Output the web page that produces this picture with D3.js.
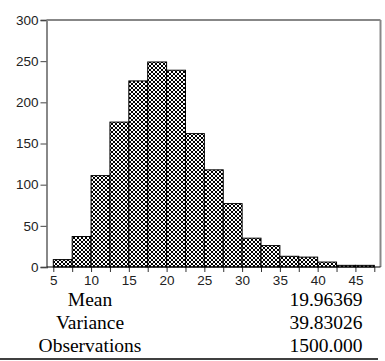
<!DOCTYPE html>
<html>
<head>
<meta charset="utf-8">
<script src="https://cdn.jsdelivr.net/npm/d3@7"></script>
<style>
  body { margin: 0; background: #fff; }
  svg { display: block; }
</style>
</head>
<body>
<svg id="chart" width="385" height="361"></svg>
<script>
// histogram bins (lower edge, width 2.5) and counts
var binStarts = [5, 7.5, 10, 12.5, 15, 17.5, 20, 22.5, 25, 27.5, 30, 32.5, 35, 37.5, 40, 42.5, 45];
var counts = [9, 37, 111, 176, 226, 249, 239, 162, 118, 77, 35, 26, 13, 12, 6, 2, 2];
var binWidth = 2.5;
var xTickLabels = [5, 10, 15, 20, 25, 30, 35, 40, 45];
var yTickLabels = [0, 50, 100, 150, 200, 250, 300];
var statNames = ["Mean", "Variance", "Observations"];
var statValues = ["19.96369", "39.83026", "1500.000"];

var svg = d3.select("#chart");

// plot frame ("top" is taken by window.top, so use a margin object)
var frame = {left: 46.5, right: 380.5, top: 20, bottom: 267};

var x = d3.scaleLinear().domain([5, 47.5]).range([53.3, 374.3]);
var y = d3.scaleLinear().domain([0, 300]).range([frame.bottom, frame.top]);

// cross-hatch fill
var defs = svg.append("defs");
var pat = defs.append("pattern")
  .attr("id", "hatch")
  .attr("patternUnits", "userSpaceOnUse")
  .attr("width", 4).attr("height", 4);
pat.append("rect").attr("width", 4).attr("height", 4).attr("fill", "#fff");
pat.append("path")
  .attr("d", "M0,0L4,4M0,4L4,0")
  .attr("stroke", "#000")
  .attr("stroke-width", 1.0);

// bars
svg.append("g")
  .selectAll("rect")
  .data(counts)
  .enter().append("rect")
  .attr("x", function(d, i) { return x(binStarts[i]); })
  .attr("y", function(d) { return y(d); })
  .attr("width", function(d, i) { return x(binStarts[i] + binWidth) - x(binStarts[i]); })
  .attr("height", function(d) { return y(0) - y(d); })
  .attr("fill", "url(#hatch)")
  .attr("stroke", "#000")
  .attr("stroke-width", 1);

// frame: top and right
svg.append("line")
  .attr("x1", frame.left).attr("x2", frame.right)
  .attr("y1", frame.top).attr("y2", frame.top)
  .attr("stroke", "#111").attr("stroke-width", 1.2);
svg.append("line")
  .attr("x1", frame.right).attr("x2", frame.right)
  .attr("y1", frame.top).attr("y2", frame.bottom)
  .attr("stroke", "#888").attr("stroke-width", 2);

// y axis
var yAxis = d3.axisLeft(y)
  .tickValues(yTickLabels)
  .tickSize(6)
  .tickPadding(2);
var gy = svg.append("g")
  .attr("transform", "translate(" + frame.left + ",0)")
  .call(yAxis);
gy.select(".domain").attr("stroke", "#888").attr("stroke-width", 2);
gy.selectAll(".tick line").attr("stroke", "#444");
gy.selectAll("text")
  .attr("font-family", "Liberation Sans, Arial, sans-serif")
  .attr("font-size", 13.5)
  .attr("fill", "#222");

// x axis: ticks at every bin edge, labels at multiples of 5
var xAxis = d3.axisBottom(x)
  .tickValues(binStarts.concat([47.5]))
  .tickSize(5)
  .tickPadding(3)
  .tickFormat(function(d) { return xTickLabels.indexOf(d) >= 0 ? d : ""; });
var gx = svg.append("g")
  .attr("transform", "translate(0," + frame.bottom + ")")
  .call(xAxis);
gx.select(".domain").remove();
gx.selectAll(".tick line").attr("stroke", "#333");
gx.selectAll("text")
  .attr("font-family", "Liberation Sans, Arial, sans-serif")
  .attr("font-size", 13.5)
  .attr("fill", "#222");

svg.append("line")
  .attr("x1", frame.left).attr("x2", frame.right)
  .attr("y1", frame.bottom).attr("y2", frame.bottom)
  .attr("stroke", "#000").attr("stroke-width", 1.2);

// summary statistics
var rowY = d3.scalePoint().domain(statNames).range([306, 351.5]);
var stats = svg.append("g")
  .attr("font-family", "Liberation Serif, Times New Roman, serif")
  .attr("font-size", 19.5)
  .attr("fill", "#000");
stats.selectAll("text.name")
  .data(statNames)
  .enter().append("text")
  .attr("class", "name")
  .attr("x", 90)
  .attr("y", function(d) { return rowY(d); })
  .attr("text-anchor", "middle")
  .text(function(d) { return d; });
stats.selectAll("text.val")
  .data(statValues)
  .enter().append("text")
  .attr("class", "val")
  .attr("x", 362.5)
  .attr("y", function(d, i) { return rowY(statNames[i]); })
  .attr("text-anchor", "end")
  .text(function(d) { return d; });

svg.append("line")
  .attr("x1", 0).attr("x2", 378)
  .attr("y1", 359).attr("y2", 359)
  .attr("stroke", "#000").attr("stroke-width", 1.5);
</script>
</body>
</html>
